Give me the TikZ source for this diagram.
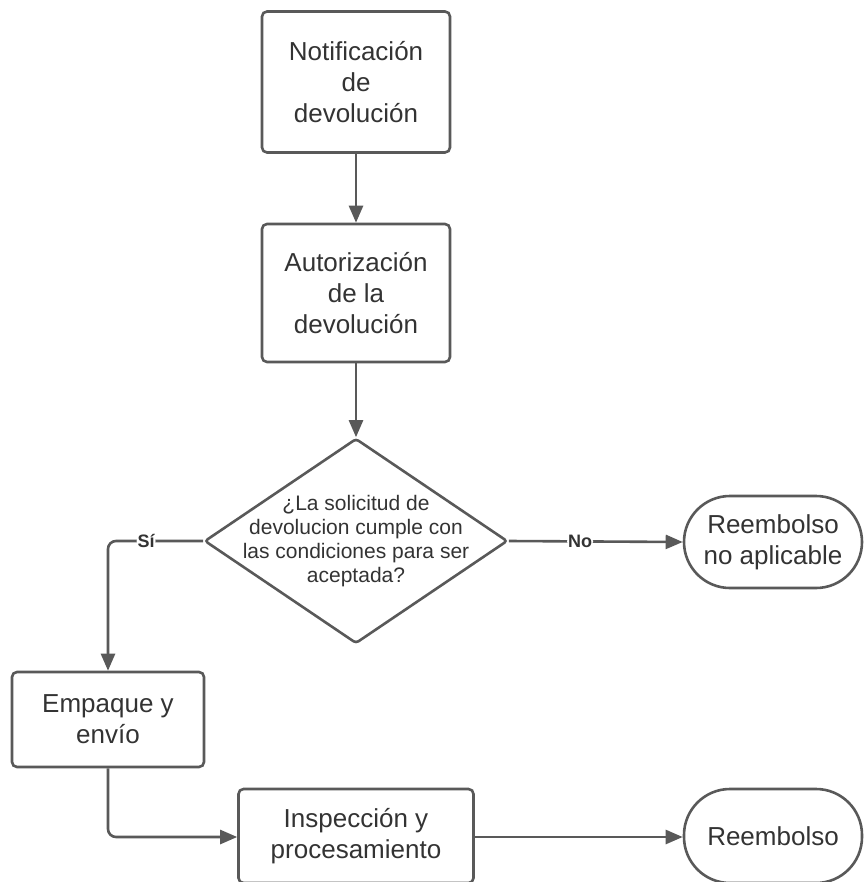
\documentclass[tikz,border=0pt]{standalone}
\usepackage{fontspec}
\setmainfont{Liberation Sans}
\usetikzlibrary{arrows.meta,shapes}
\definecolor{linegray}{HTML}{595959}
\definecolor{textgray}{HTML}{333333}
\tikzstyle{stepbox}=[rectangle,draw=linegray,line width=2.6pt,rounded corners=5pt,text=textgray,align=center,inner sep=0pt,font=\fontsize{26}{31}\selectfont]
\tikzstyle{endbox}=[stepbox,rounded corners=46pt]
\tikzstyle{decision}=[diamond,draw=linegray,line width=2.6pt,rounded corners=3pt,inner sep=0pt]
\tikzstyle{decisiontext}=[text=textgray,align=center,font=\fontsize{21}{24}\selectfont]
\tikzstyle{flow} = [draw=linegray,line width=2.6pt,rounded corners=8pt,-{Triangle[length=17pt,width=14pt]}]
\tikzstyle{branch} = [fill=white,text=textgray,inner sep=1pt,font=\fontsize{18}{18}\selectfont\bfseries]

\begin{document}
\begin{tikzpicture}[x=1pt,y=-1pt]
\useasboundingbox (0,0) rectangle (867,882);

   \def\cx{356};
   \def\w{188};

%column
   \node[stepbox,minimum width=\w pt,minimum height=141pt] (notif) at (\cx,82) {Notificación\\de\\devolución};
   \node[stepbox,minimum width=\w pt,minimum height=138pt] (autor) at (\cx,293) {Autorización\\de la\\devolución};
   \node[decision,minimum width=303pt,minimum height=205pt] (cond) at (\cx,541) {};
   \node[decisiontext] (condtext) at (cond) {¿La solicitud de\\devolucion cumple con\\las condiciones para ser\\aceptada?};

%right side
   \node[endbox,minimum width=178pt,minimum height=92pt] (noapl) at (773,542) {Reembolso\\no aplicable};
   \node[endbox,minimum width=178pt,minimum height=94pt] (reemb) at (773,836) {Reembolso};

%bottom
   \node[stepbox,minimum width=192pt,minimum height=95pt] (empaque) at (108,719.5) {Empaque y\\envío};
   \node[stepbox,minimum width=235pt,minimum height=94pt] (inspec) at (\cx,836) {Inspección y\\procesamiento};

   \coordinate (sicorner) at (108,541);
   \coordinate (bajocorner) at (108,837);

   % connectors
   \foreach \source/ \dest in {notif/autor, autor/cond}
       \path[flow] (\source) -- (\dest);

   \path[flow] (cond.west) -- node[branch,pos=0.6] (si) {Sí} (sicorner) -- (empaque.north);
   \path[flow] (cond.east) -- node[branch,pos=0.41] (no) {No} (noapl.west);
   \path[flow] (empaque.south) -- (bajocorner) -- (inspec.west |- bajocorner);
   \path[flow] (inspec.east |- bajocorner) -- (reemb.west |- bajocorner);

\end{tikzpicture}
\end{document}
